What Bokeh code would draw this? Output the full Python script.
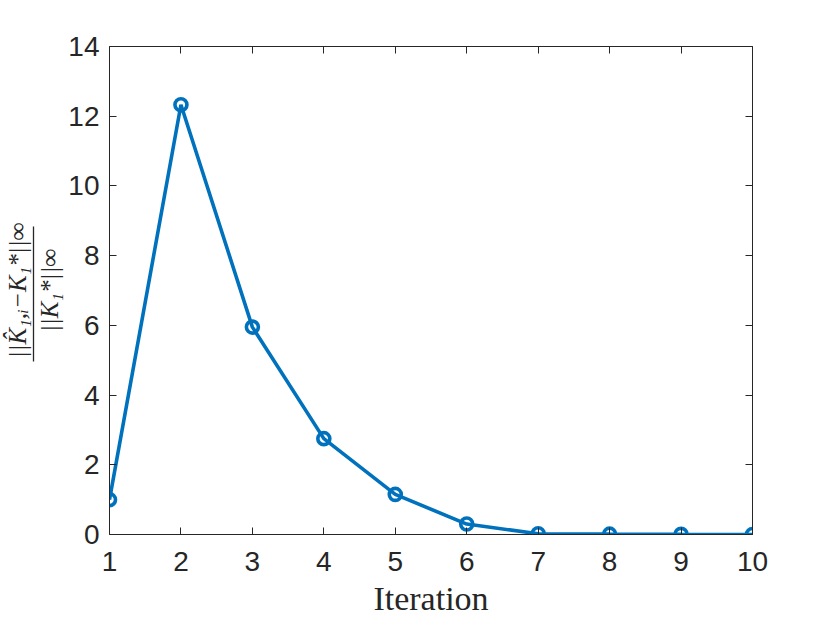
from bokeh.plotting import figure
from bokeh.models import Range1d, LinearAxis, FixedTicker, CustomLabelingPolicy
from bokeh.embed import file_html
from bokeh.resources import INLINE

iterations = [1, 2, 3, 4, 5, 6, 7, 8, 9, 10]
rel_error = [1.0, 12.33, 5.95, 2.75, 1.15, 0.30, 0.02, 0.01, 0.005, 0.002]
x_ticks = [1, 2, 3, 4, 5, 6, 7, 8, 9, 10]
y_ticks = [0, 2, 4, 6, 8, 10, 12, 14]
y_label_num = "||K̂₁,ᵢ−K₁*||∞"
y_label_den = "||K₁*||∞"
x_label = "Iteration"

BLUE = "#0072BD"
AX = "#262626"

p = figure(width=828, height=621, output_backend="svg", toolbar_location=None,
           x_range=Range1d(1, 10), y_range=Range1d(0, 14),
           min_border_left=108, min_border_right=76, min_border_top=46, min_border_bottom=87)
p.outline_line_color = None
p.grid.visible = False

no_labels = CustomLabelingPolicy(code="""
const n = indices.size;
for (let i = 0; i < n; i++) { indices.unset(i) }
return indices
""")

def style(ax, labels=True, standoff=10):
    ax.axis_line_color = AX
    ax.axis_line_width = 1
    ax.major_tick_line_color = AX
    ax.major_tick_in = 7
    ax.major_tick_out = 0
    ax.minor_tick_line_color = None
    ax.major_label_text_color = AX
    ax.major_label_text_font = "Liberation Sans"
    ax.major_label_text_font_size = "28px"
    if labels:
        ax.major_label_standoff = standoff
    else:
        ax.major_label_standoff = 0
        ax.major_label_policy = no_labels

p.xaxis.ticker = FixedTicker(ticks=x_ticks)
p.yaxis.ticker = FixedTicker(ticks=y_ticks)
style(p.xaxis[0], standoff=17); style(p.yaxis[0], standoff=10)
p.xaxis.axis_label = x_label
p.xaxis.axis_label_text_font = "Liberation Serif"
p.xaxis.axis_label_text_font_style = "normal"
p.xaxis.axis_label_text_font_size = "34px"
p.xaxis.axis_label_text_color = AX
p.xaxis.axis_label_standoff = 6

# denominator of y label on the main axis
p.yaxis.axis_label = y_label_den
p.yaxis.axis_label_text_font = "Liberation Serif"
p.yaxis.axis_label_text_font_style = "italic"
p.yaxis.axis_label_text_font_size = "25px"
p.yaxis.axis_label_text_color = AX
p.yaxis.axis_label_standoff = 2

# fraction bar as a bounded axis line
bar = LinearAxis(ticker=FixedTicker(ticks=[]), bounds=(4.95, 8.85))
bar.axis_line_color = AX
bar.axis_line_width = 1.3
bar.major_tick_line_color = None
bar.minor_tick_line_color = None
bar.major_label_standoff = 0
bar.major_tick_out = 0
bar.major_tick_in = 0
p.add_layout(bar, "left")

# numerator of y label
num = LinearAxis(ticker=FixedTicker(ticks=[]))
num.axis_line_color = None
num.major_tick_line_color = None
num.minor_tick_line_color = None
num.major_label_standoff = 0
num.major_tick_out = 0
num.major_tick_in = 0
num.axis_label = y_label_num
num.axis_label_text_font = "Liberation Serif"
num.axis_label_text_font_style = "italic"
num.axis_label_text_font_size = "25px"
num.axis_label_text_color = AX
num.axis_label_standoff = 3
p.add_layout(num, "left")

rax = LinearAxis(ticker=FixedTicker(ticks=y_ticks)); style(rax, False)
tax = LinearAxis(ticker=FixedTicker(ticks=x_ticks)); style(tax, False)
p.add_layout(rax, "right")
p.add_layout(tax, "above")

p.line(iterations, rel_error, line_color=BLUE, line_width=3.6)
p.scatter(iterations, rel_error, marker="circle", size=12, fill_color=None,
          line_color=BLUE, line_width=3.6)

open("out.html", "w").write(file_html(p, INLINE))
